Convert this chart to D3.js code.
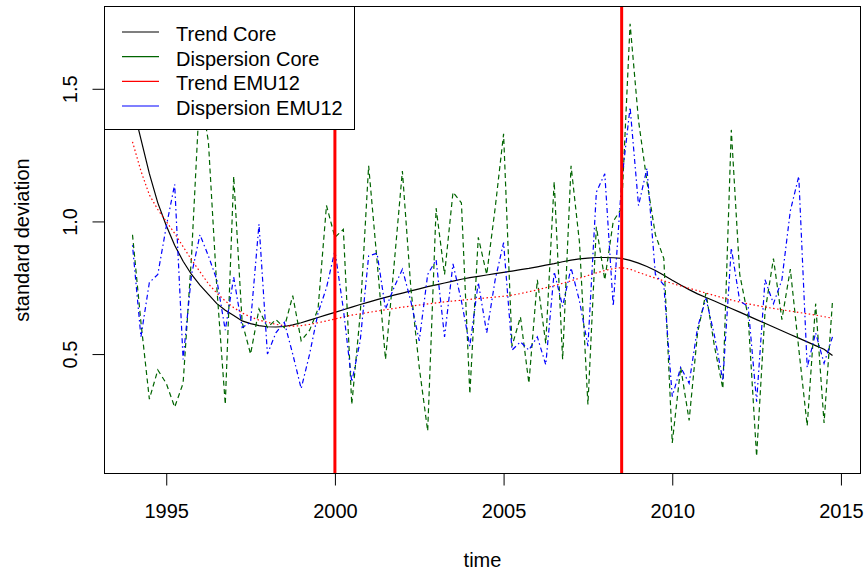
<!DOCTYPE html>
<html>
<head>
<meta charset="utf-8">
<script src="https://cdn.jsdelivr.net/npm/d3@7"></script>
<style>
  body { margin: 0; background: #fff; }
  svg { display: block; }
  text { font-family: "Liberation Sans", Arial, Helvetica, sans-serif; fill: #000; }
</style>
</head>
<body>
<svg id="chart" width="867" height="574"></svg>
<script>
// Quarterly series, 1994 Q1 - 2014 Q4
const startYear = 1994;
const perYear = 4;

const trendCore = [
  1.44, 1.31, 1.18, 1.07, 0.985, 0.91, 0.85, 0.80, 0.76, 0.725,
  0.69, 0.665, 0.645, 0.625, 0.615, 0.607, 0.603, 0.602, 0.604, 0.61,
  0.618, 0.628, 0.638, 0.648, 0.657, 0.667, 0.677, 0.687, 0.696, 0.705,
  0.714, 0.722, 0.73, 0.738, 0.746, 0.754, 0.761, 0.768, 0.775, 0.782,
  0.788, 0.793, 0.798, 0.803, 0.808, 0.813, 0.818, 0.823, 0.829, 0.835,
  0.841, 0.848, 0.854, 0.859, 0.862, 0.864, 0.864, 0.863, 0.861, 0.853,
  0.843, 0.830, 0.815, 0.797, 0.778, 0.760, 0.743, 0.727, 0.713, 0.700,
  0.686, 0.672, 0.658, 0.644, 0.630, 0.616, 0.602, 0.588, 0.574, 0.560,
  0.546, 0.532, 0.518, 0.495
];

const dispersionCore = [
  0.95, 0.62, 0.33, 0.44, 0.39, 0.30, 0.39, 0.87, 1.50, 1.30,
  0.75, 0.31, 1.17, 0.62, 0.50, 0.67, 0.60, 0.63, 0.60, 0.72,
  0.55, 0.59, 0.67, 1.06, 0.94, 0.97, 0.31, 0.65, 1.21, 0.85,
  0.48, 0.83, 1.19, 0.75, 0.45, 0.21, 1.05, 0.80, 1.11, 1.07,
  0.35, 0.94, 0.80, 1.05, 1.33, 0.53, 0.64, 0.39, 0.78, 0.54,
  1.15, 0.48, 1.21, 0.92, 0.31, 0.98, 0.78, 1.00, 1.05, 1.745,
  1.38, 1.15, 0.95, 0.86, 0.165, 0.45, 0.25, 0.58, 0.73, 0.53,
  0.37, 1.345, 0.80, 0.64, 0.115, 0.66, 0.86, 0.63, 0.82, 0.52,
  0.23, 0.69, 0.24, 0.70
];

const trendEMU12 = [
  1.30, 1.19, 1.10, 1.045, 1.00, 0.955, 0.905, 0.855, 0.81, 0.765,
  0.73, 0.70, 0.675, 0.655, 0.64, 0.628, 0.62, 0.612, 0.607, 0.605,
  0.607, 0.612, 0.618, 0.625, 0.632, 0.64, 0.647, 0.652, 0.657, 0.662,
  0.667, 0.672, 0.677, 0.681, 0.685, 0.689, 0.693, 0.697, 0.700, 0.703,
  0.706, 0.709, 0.712, 0.715, 0.718, 0.722, 0.728, 0.735, 0.742, 0.750,
  0.758, 0.767, 0.776, 0.786, 0.796, 0.806, 0.815, 0.822, 0.826, 0.82,
  0.808, 0.797, 0.786, 0.776, 0.766, 0.757, 0.748, 0.739, 0.730, 0.721,
  0.712, 0.704, 0.696, 0.689, 0.683, 0.677, 0.672, 0.667, 0.662, 0.657,
  0.652, 0.647, 0.641, 0.635
];

const dispersionEMU12 = [
  0.91, 0.565, 0.77, 0.80, 0.98, 1.14, 0.48, 0.80, 0.95, 0.87,
  0.78, 0.59, 0.79, 0.60, 0.62, 0.99, 0.50, 0.58, 0.62, 0.50,
  0.37, 0.50, 0.655, 0.75, 0.89, 0.67, 0.395, 0.55, 0.87, 0.88,
  0.67, 0.75, 0.82, 0.70, 0.55, 0.80, 0.855, 0.565, 0.84, 0.70,
  0.53, 0.77, 0.58, 0.78, 0.92, 0.515, 0.546, 0.515, 0.565, 0.46,
  0.81, 0.68, 0.825, 0.70, 0.53, 1.11, 1.18, 0.68, 1.15, 1.43,
  1.06, 1.20, 0.80, 0.76, 0.34, 0.45, 0.39, 0.60, 0.71, 0.57,
  0.40, 0.90, 0.70, 0.68, 0.32, 0.78, 0.69, 0.78, 1.04, 1.17,
  0.45, 0.58, 0.465, 0.565
];

const xTickValues = [1995, 2000, 2005, 2010, 2015];
const yTickValues = [0.5, 1.0, 1.5];
const breakYears = [2000, 2008.5];
const legendLabels = ["Trend Core", "Dispersion Core", "Trend EMU12", "Dispersion EMU12"];

// ---- layout ----
const svg = d3.select("#chart");
const plot = { left: 104.5, right: 860.5, top: 6.5, bottom: 473.5 };
const fontSize = 20;

const time = trendCore.map((_, i) => startYear + i / perYear);

// axis ranges padded by 4% on each side
function padded(ext) {
  const r = ext[1] - ext[0];
  return [ext[0] - 0.04 * r, ext[1] + 0.04 * r];
}
const allValues = [].concat(trendCore, dispersionCore, trendEMU12, dispersionEMU12);

const x = d3.scaleLinear().domain(padded(d3.extent(time))).range([plot.left, plot.right]);
const y = d3.scaleLinear().domain(padded(d3.extent(allValues))).range([plot.bottom, plot.top]);

svg.append("defs").append("clipPath").attr("id", "plotClip")
  .append("rect")
  .attr("x", plot.left).attr("y", plot.top)
  .attr("width", plot.right - plot.left).attr("height", plot.bottom - plot.top);

const series = [
  { name: legendLabels[0], values: trendCore,       color: "#000000", dash: null },
  { name: legendLabels[1], values: dispersionCore,  color: "#006400", dash: "5,3.5" },
  { name: legendLabels[2], values: trendEMU12,      color: "#ff0000", dash: "1.5,2.5" },
  { name: legendLabels[3], values: dispersionEMU12, color: "#0000ff", dash: "1.5,3,5,3" }
];

const line = d3.line().x((d, i) => x(time[i])).y(d => y(d));

const lines = svg.append("g").attr("clip-path", "url(#plotClip)");
lines.selectAll("path.series")
  .data(series)
  .join("path")
  .attr("class", "series")
  .attr("fill", "none")
  .attr("stroke", d => d.color)
  .attr("stroke-width", 1.2)
  .attr("stroke-dasharray", d => d.dash)
  .attr("d", d => line(d.values));

// structural break markers
lines.selectAll("line.break")
  .data(breakYears)
  .join("line")
  .attr("class", "break")
  .attr("x1", d => x(d)).attr("x2", d => x(d))
  .attr("y1", plot.top).attr("y2", plot.bottom)
  .attr("stroke", "#ff0000")
  .attr("stroke-width", 3);

// ---- axes ----
const xAxis = svg.append("g")
  .attr("transform", `translate(0,${plot.bottom})`)
  .call(d3.axisBottom(x).tickValues(xTickValues).tickSize(12).tickPadding(18).tickFormat(d3.format("d")));
xAxis.select(".domain").remove();
xAxis.selectAll("line").attr("stroke", "#000");
xAxis.selectAll("text").attr("font-size", fontSize).attr("font-family", null);

const yAxis = svg.append("g")
  .attr("transform", `translate(${plot.left},0)`)
  .call(d3.axisLeft(y).tickValues(yTickValues).tickSize(12).tickFormat(d3.format(".1f")));
yAxis.select(".domain").remove();
yAxis.selectAll("line").attr("stroke", "#000");
yAxis.selectAll("text")
  .attr("font-size", fontSize)
  .attr("font-family", null)
  .attr("transform", "rotate(-90)")
  .attr("x", 0)
  .attr("y", -27.5)
  .attr("dy", 0)
  .attr("text-anchor", "middle");

// plot frame
svg.append("rect")
  .attr("x", plot.left).attr("y", plot.top)
  .attr("width", plot.right - plot.left).attr("height", plot.bottom - plot.top)
  .attr("fill", "none").attr("stroke", "#000").attr("stroke-width", 1);

// axis titles
svg.append("text")
  .attr("x", (plot.left + plot.right) / 2)
  .attr("y", 567)
  .attr("text-anchor", "middle")
  .attr("font-size", fontSize)
  .text("time");

svg.append("text")
  .attr("transform", `translate(29,${(plot.top + plot.bottom) / 2}) rotate(-90)`)
  .attr("text-anchor", "middle")
  .attr("font-size", fontSize)
  .text("standard deviation");

// ---- legend ----
const legend = svg.append("g");
legend.append("rect")
  .attr("x", plot.left).attr("y", plot.top)
  .attr("width", 250).attr("height", 123)
  .attr("fill", "#fff").attr("stroke", "#000").attr("stroke-width", 1);

const rowY = d3.scalePoint().domain(legendLabels).range([32, 106]);

const rows = legend.selectAll("g.row")
  .data(series)
  .join("g")
  .attr("class", "row")
  .attr("transform", d => `translate(0,${rowY(d.name)})`);

rows.append("line")
  .attr("x1", 122).attr("x2", 159)
  .attr("y1", 0).attr("y2", 0)
  .attr("stroke", d => d.color)
  .attr("stroke-width", 1.2);

rows.append("text")
  .attr("x", 176)
  .attr("y", 9)
  .attr("font-size", fontSize)
  .text(d => d.name);
</script>
</body>
</html>
